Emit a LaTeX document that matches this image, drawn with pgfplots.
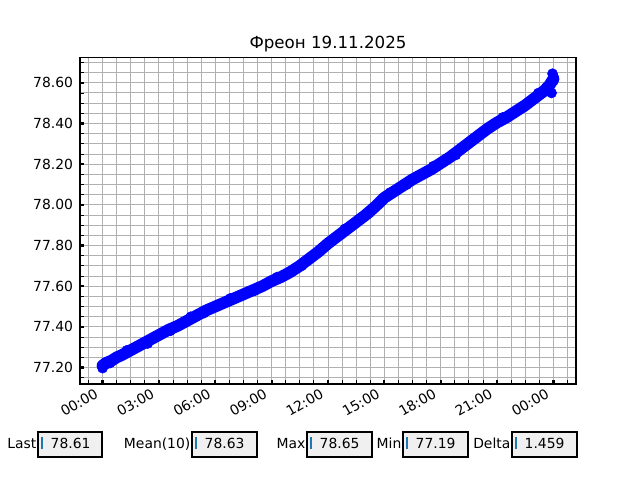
\documentclass[border=0pt]{standalone}
\usepackage{fontspec}
\setmainfont{DejaVu Sans}
\usepackage{pgfplots}
\pgfplotsset{compat=1.18}
\definecolor{gridgray}{HTML}{B0B0B0}
\definecolor{boxgray}{HTML}{F0F0F0}
\definecolor{tabblue}{HTML}{1F77B4}
\definecolor{pureblue}{RGB}{0,0,255}
\newcommand{\tbox}[4]{%
  \draw[black, line width=0.8pt, fill=boxgray] (#2pt,16.56pt) rectangle (#3pt,34.56pt);
  \draw[tabblue, line width=1.5pt] ({#2pt+2.8pt},22.6pt) -- ({#2pt+2.8pt},30.6pt);
  \node[anchor=base east, inner sep=0pt] at ({#2pt-1pt},23.04pt) {#1};
  \node[anchor=base west, inner sep=0pt] at ({#2pt+8.93pt},23.04pt) {#4};
}
\begin{document}
\begin{tikzpicture}
\path[use as bounding box] (0,0) rectangle (460.8pt,345.6pt);
\begin{axis}[
  at={(57.6pt,69.12pt)}, anchor=south west,
  scale only axis, width=357.12pt, height=235.0pt,
  xmin=-1.2, xmax=25.2, ymin=77.119, ymax=78.724,
  xtick={0,3,6,9,12,15,18,21,24},
  xticklabels={00:00,03:00,06:00,09:00,12:00,15:00,18:00,21:00,00:00},
  minor xtick={-0.75,0.75,1.5,2.25,3.75,4.5,5.25,6.75,7.5,8.25,9.75,10.5,11.25,12.75,13.5,14.25,15.75,16.5,17.25,18.75,19.5,20.25,21.75,22.5,23.25,24.75},
  ytick={77.2,77.4,77.6,77.8,78.0,78.2,78.4,78.6},
  minor ytick={77.15,77.25,77.3,77.35,77.45,77.5,77.55,77.65,77.7,77.75,77.85,77.9,77.95,78.05,78.1,78.15,78.25,78.3,78.35,78.45,78.5,78.55,78.65,78.7},
  tick pos=left,
  tick align=inside,
  grid=both,
  major grid style={gridgray, line width=0.72pt},
  minor grid style={gridgray, line width=0.72pt},
  major tick length=3pt, minor tick length=3pt,
  major tick style={black, line width=1.6pt},
  minor tick style={black, line width=0.6pt},
  axis line style={black, line width=0.9pt},
  /pgf/number format/assume math mode=true,
  yticklabel style={/pgf/number format/fixed, /pgf/number format/fixed zerofill, /pgf/number format/precision=2, xshift=-1.5pt},
  xticklabel style={inner sep=0pt, anchor=south east, xshift=-2.2pt, yshift=-9.5pt, rotate=30},
  title={Фреон 19.11.2025},
  title style={font=\fontsize{12}{14}\selectfont, at={(0.5,1)}, anchor=base, yshift=0.7pt},
]
\addplot[pureblue, line width=8.5pt, line cap=round, line join=round] coordinates {
(0.0,77.21) (0.25,77.225) (0.5,77.235) (0.75,77.25) (1.0,77.26) (1.5,77.285)
(2.0,77.31) (2.5,77.335) (3.0,77.36) (3.5,77.385) (4.0,77.405) (4.5,77.43)
(5.0,77.455) (5.5,77.48) (6.0,77.50) (6.5,77.52) (7.0,77.54) (7.5,77.56)
(8.0,77.58) (8.5,77.60) (9.0,77.625) (9.5,77.645) (10.0,77.67) (10.5,77.70)
(11.0,77.735) (11.5,77.77) (12.0,77.81) (12.5,77.845) (13.0,77.88) (13.5,77.915)
(14.0,77.95) (14.5,77.99) (15.0,78.035) (15.5,78.065) (16.0,78.095) (16.5,78.125)
(17.0,78.15) (17.5,78.175) (18.0,78.205) (18.5,78.235) (19.0,78.27) (19.5,78.305)
(20.0,78.34) (20.5,78.375) (21.0,78.405) (21.5,78.43) (22.0,78.46) (22.5,78.49)
(23.0,78.525) (23.5,78.56) (23.8,78.59) (24.0,78.62)
};
\addplot[pureblue, only marks, mark=*, mark size=3.6pt, mark options={draw=pureblue, fill=pureblue}] coordinates {
(0.0,77.197) (0.15,77.225) (0.4,77.222) (1.3,77.285) (2.4,77.318) (3.6,77.38)
(4.7,77.45) (5.4,77.468) (6.8,77.54) (8.1,77.578) (9.3,77.645) (10.6,77.70)
(11.8,77.795) (12.9,77.882) (14.2,77.96) (15.3,78.06) (16.2,78.10) (17.6,78.19)
(18.8,78.245) (20.3,78.36) (21.3,78.43) (22.4,78.48) (23.2,78.55) (23.6,78.565)
(23.9,78.55) (23.95,78.645) (24.0,78.61) (24.0,78.63)
};
\end{axis}
\tbox{Last}{27.36}{73.44}{78.61}
\tbox{Mean(10)}{138.24}{185.04}{78.63}
\tbox{Max}{221.04}{267.84}{78.65}
\tbox{Min}{290.16}{336.96}{77.19}
\tbox{Delta}{368.64}{415.44}{1.459}
\end{tikzpicture}
\end{document}
